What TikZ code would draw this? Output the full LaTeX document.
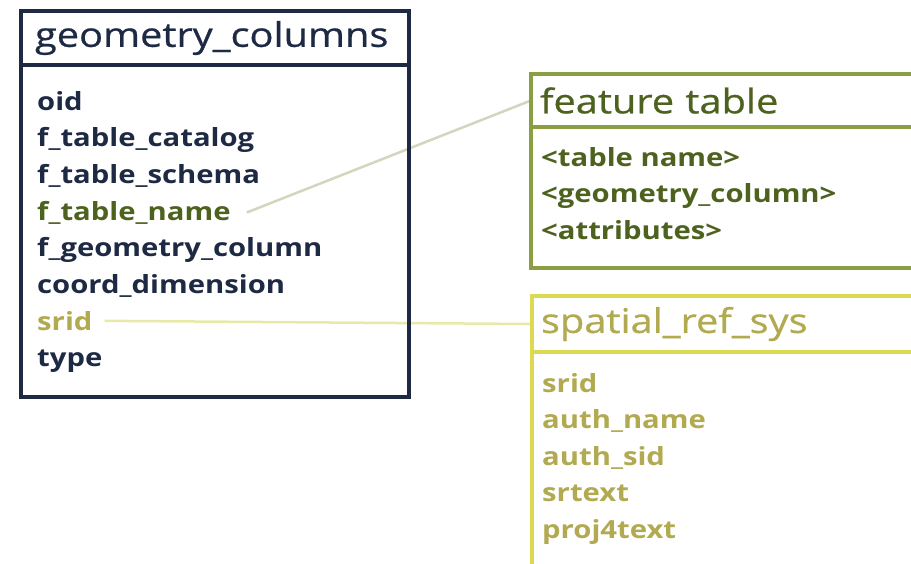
\documentclass[tikz,border=0pt]{standalone}
\usepackage{fontspec}
\setmainfont[FakeStretch=1.17]{Open Sans}
\newfontfamily\headfont[FakeStretch=1.17, FakeBold=0.7]{Open Sans}
\usetikzlibrary{positioning, backgrounds}
\definecolor{navy}{HTML}{1E2A44}
\definecolor{featline}{HTML}{8A9E42}
\definecolor{feattext}{HTML}{4E6220}
\definecolor{srsline}{HTML}{DCDA52}
\definecolor{srstext}{HTML}{B2AA50}
\definecolor{featlink}{HTML}{D2D6BC}
\definecolor{srslink}{HTML}{E6E9A8}
\begin{document}
\begin{tikzpicture}[x=1pt,y=-1pt,
  head/.style={draw=#1, line width=3.5pt, outer sep=0pt, anchor=north west, inner xsep=14pt, text width=360pt, align=left, font=\headfont\fontsize{34}{37}\selectfont},
  field/.style={anchor=base west, inner sep=2pt, font=\bfseries\fontsize{25}{28}\selectfont},
  link/.style={line width=2.5pt}]
\clip (0,0) rectangle (911,563);
\node[head=navy, text=navy, minimum height=54pt] (geo-head) at (21,11) {geometry\_columns};
\node[draw=navy, line width=3.5pt, outer sep=0pt, below=0pt of geo-head, minimum width=388pt, minimum height=332pt] (geo-body) {};
\foreach \key/\txt/\col [count=\i] in {oid/oid/navy, cat/f\_table\_catalog/navy, schema/f\_table\_schema/navy, tname/f\_table\_name/feattext, gcol/f\_geometry\_column/navy, dim/coord\_dimension/navy, srid/srid/srstext, type/type/navy}
  \node[field, text=\col] (geo-\key) at (35, 110+36.7*\i-36.7) {\txt};
\node[head=featline, text=feattext, minimum height=53pt, inner xsep=9pt, text width=402pt] (feat-head) at (531,74) {feature table};
\node[draw=featline, line width=3.5pt, outer sep=0pt, below=0pt of feat-head, minimum width=420pt, minimum height=141pt] (feat-body) {};
\foreach \key/\txt [count=\i] in {name/<table name>, gcol/<geometry\_column>, attr/<attributes>}
  \node[field, text=feattext] (feat-\key) at (539, 166+36.5*\i-36.5) {\txt};
\node[head=srsline, text=srstext, minimum height=56pt, inner xsep=9pt, text width=402pt] (srs-head) at (532,296) {spatial\_ref\_sys};
\node[draw=srsline, line width=3.5pt, outer sep=0pt, below=0pt of srs-head, minimum width=420pt, minimum height=240pt] (srs-body) {};
\foreach \key/\txt [count=\i] in {srid/srid, aname/auth\_name, asid/auth\_sid, srtext/srtext, proj/proj4text}
  \node[field, text=srstext] (srs-\key) at (540, 392+36.5*\i-36.5) {\txt};
\begin{scope}[on background layer]
\draw[link, featlink] (geo-tname.east) ++(14,0) -- (feat-head.west);
\draw[link, srslink] (geo-srid.east) ++(10,0) -- (srs-head.west);
\end{scope}
\end{tikzpicture}
\end{document}
